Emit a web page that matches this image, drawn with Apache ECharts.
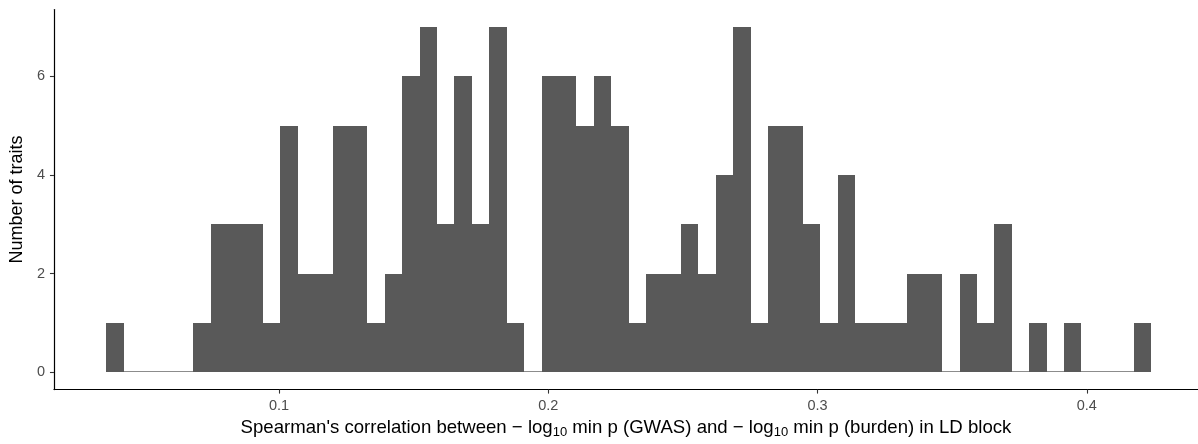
<!DOCTYPE html>
<html>
<head>
<meta charset="utf-8">
<script src="https://cdn.jsdelivr.net/npm/echarts@6/dist/echarts.min.js"></script>
<style>
  html, body { margin: 0; padding: 0; background: #fff; }
  #chart { width: 1198px; height: 444px; }
</style>
</head>
<body>
<div id="chart"></div>
<script>
// Histogram of per-trait Spearman correlations, 60 equal-width bins
const binStart = 0.03576;
const binWidth = 0.006469;
const counts = [
  1, 0, 0, 0, 0, 1, 3, 3, 3, 1,
  5, 2, 2, 5, 5, 1, 2, 6, 7, 3,
  6, 3, 7, 1, 0, 6, 6, 5, 6, 5,
  1, 2, 2, 3, 2, 4, 7, 1, 5, 5,
  3, 1, 4, 1, 1, 1, 2, 2, 0, 2,
  1, 3, 0, 1, 0, 1, 0, 0, 0, 1
];
const xTicks = [0.1, 0.2, 0.3, 0.4];
const yTicks = [0, 2, 4, 6];

const bins = counts.map((c, i) => [binStart + i * binWidth, binStart + (i + 1) * binWidth, c]);

const chart = echarts.init(document.getElementById('chart'), null, { renderer: 'canvas' });
const FONT = 'Liberation Sans, Arial, Helvetica, sans-serif';

chart.setOption({
  animation: false,
  backgroundColor: '#ffffff',
  grid: { left: 53, right: 0, top: 9.6, bottom: 52, containLabel: false },
  xAxis: {
    type: 'value',
    min: 0.0164,
    max: 0.4413,
    splitLine: { show: false },
    axisLine: { show: true, onZero: false, lineStyle: { color: '#000', width: 1.2 } },
    axisTick: { show: true, length: 4, customValues: xTicks, lineStyle: { color: '#333', width: 1.1 } },
    axisLabel: {
      customValues: xTicks, color: '#4d4d4d', fontSize: 14.5, fontFamily: FONT, margin: 9,
      formatter: v => String(v)
    },
    name: '{n|Spearman\'s correlation between \u2212 log}{s|10}{n| min p (GWAS) and \u2212 log}{s|10}{n| min p (burden) in LD block}',
    nameLocation: 'middle',
    nameGap: 24,
    nameTextStyle: {
      color: '#000', fontFamily: FONT,
      rich: {
        n: { fontSize: 18.6, fontFamily: FONT, color: '#000' },
        s: { fontSize: 13, fontFamily: FONT, color: '#000', padding: [9, 0, 0, 0] }
      }
    }
  },
  yAxis: {
    type: 'value',
    min: -0.35,
    max: 7.35,
    splitLine: { show: false },
    axisLine: { show: true, onZero: false, lineStyle: { color: '#000', width: 1.2 } },
    axisTick: { show: true, length: 4, customValues: yTicks, lineStyle: { color: '#333', width: 1.1 } },
    axisLabel: { customValues: yTicks, color: '#4d4d4d', fontSize: 14.5, fontFamily: FONT, margin: 9 },
    name: 'Number of traits',
    nameLocation: 'middle',
    nameGap: 27,
    nameTextStyle: { color: '#000', fontSize: 18, fontFamily: FONT }
  },
  series: [{
    type: 'custom',
    data: bins,
    encode: { x: [0, 1], y: 2 },
    renderItem: function (params, api) {
      const x0 = api.value(0), x1 = api.value(1), c = api.value(2);
      const p0 = api.coord([x0, 0]);
      const p1 = api.coord([x1, c]);
      const left = Math.round(p0[0]), right = Math.round(p1[0]);
      const base = Math.round(p0[1]), top = Math.round(p1[1]);
      if (c === 0) {
        return {
          type: 'rect',
          shape: { x: left, y: base - 1, width: right - left, height: 1 },
          style: { fill: '#8c8c8c' }
        };
      }
      return {
        type: 'rect',
        shape: { x: left, y: top, width: right - left, height: base - top },
        style: { fill: '#595959' }
      };
    }
  }]
});
</script>
</body>
</html>
